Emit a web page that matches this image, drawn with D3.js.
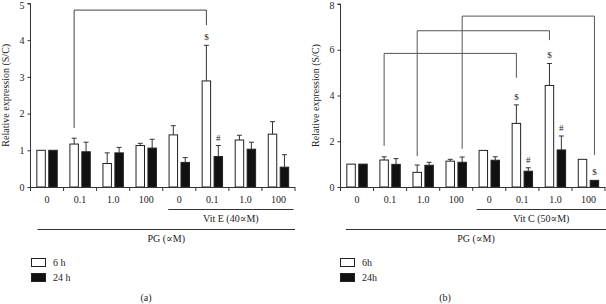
<!DOCTYPE html>
<html>
<head>
<meta charset="utf-8">
<script src="https://cdn.jsdelivr.net/npm/d3@7"></script>
<style>
  body { margin: 0; background: #fff; }
  svg text { font-family: "Liberation Serif", "DejaVu Serif", serif; fill: #222; }
</style>
</head>
<body>
<div id="chart"></div>
<script>
var w = 606, h = 304;

// Categories (PG concentration) and series
var groups = ["0", "0.1", "1.0", "100", "0", "0.1", "1.0", "100"];
var series = ["6h", "24h"];

// Panel (a): Vit E
var a6h = [1.0, 1.17, 0.64, 1.13, 1.42, 2.89, 1.28, 1.44];
var a6hErr = [0, 0.16, 0.29, 0.06, 0.25, 0.97, 0.13, 0.34];
var a24h = [1.0, 0.96, 0.93, 1.06, 0.67, 0.83, 1.03, 0.54];
var a24hErr = [0, 0.26, 0.15, 0.24, 0.13, 0.30, 0.19, 0.34];
var aTicks = [0, 1, 2, 3, 4, 5];
// [group, series, symbol]
var aMarks = [[5, 0, "$"], [5, 1, "#"]];
// [leftGroup, leftSeries, rightGroup, rightSeries, top, leftEnd, rightEnd]
var aBrackets = [[1, 0, 5, 0, 4.82, 1.61, 4.41]];

// Panel (b): Vit C
var b6h = [1.0, 1.18, 0.64, 1.13, 1.6, 2.78, 4.44, 1.21];
var b6hErr = [0, 0.14, 0.32, 0.08, 0, 0.81, 0.96, 0];
var b24h = [1.0, 0.99, 0.95, 1.08, 1.17, 0.69, 1.62, 0.29];
var b24hErr = [0, 0.25, 0.13, 0.23, 0.15, 0.15, 0.61, 0];
var bTicks = [0, 2, 4, 6, 8];
var bMarks = [[5, 0, "$"], [6, 0, "$"], [6, 1, "#"], [5, 1, "#"], [7, 1, "$"]];
var bBrackets = [
  [1, 0, 5, 0, 5.84, 1.8, 4.77],
  [2, 0, 6, 0, 6.83, 1.35, 6.42],
  [3, 1, 7, 1, 7.47, 1.67, 1.40]
];

var svg = d3.select("#chart")
  .append("svg")
  .attr("width", w)
  .attr("height", h);

function drawPanel(p) {
  var g = svg.append("g");

  var x0 = d3.scaleBand()
    .domain(d3.range(groups.length))
    .range([p.left, p.right]);

  var x1 = d3.scaleBand()
    .domain(series)
    .range([-10.2, 10.2])
    .paddingInner(0.29);

  var y = d3.scaleLinear()
    .domain([0, p.ymax])
    .range([187, p.ytop]);

  function cx(gi, si) {
    return x0(gi) + x0.bandwidth() / 2 + x1(series[si]) + x1.bandwidth() / 2;
  }

  var rows = [];
  groups.forEach(function(d, i) {
    rows.push({ g: i, s: 0, v: p.v6[i], e: p.e6[i] });
    rows.push({ g: i, s: 1, v: p.v24[i], e: p.e24[i] });
  });

  // Error bars (upper only)
  var eb = g.append("g")
    .selectAll("g")
    .data(rows.filter(function(d) { return d.e > 0; }))
    .enter()
    .append("g")
    .attr("stroke", "#333")
    .attr("stroke-width", 1);
  eb.append("line")
    .attr("x1", function(d) { return cx(d.g, d.s); })
    .attr("x2", function(d) { return cx(d.g, d.s); })
    .attr("y1", function(d) { return y(d.v); })
    .attr("y2", function(d) { return y(d.v + d.e); });
  eb.append("line")
    .attr("x1", function(d) { return cx(d.g, d.s) - 2.5; })
    .attr("x2", function(d) { return cx(d.g, d.s) + 2.5; })
    .attr("y1", function(d) { return y(d.v + d.e); })
    .attr("y2", function(d) { return y(d.v + d.e); });

  // Bars
  g.append("g")
    .selectAll("rect")
    .data(rows)
    .enter()
    .append("rect")
    .attr("x", function(d) { return cx(d.g, d.s) - x1.bandwidth() / 2; })
    .attr("y", function(d) { return y(d.v); })
    .attr("width", x1.bandwidth())
    .attr("height", function(d) { return y(0) - y(d.v); })
    .attr("fill", function(d) { return d.s === 0 ? "#fff" : "#111"; })
    .attr("stroke", "#222")
    .attr("stroke-width", 1);

  // Significance symbols
  g.append("g")
    .selectAll("text")
    .data(p.marks)
    .enter()
    .append("text")
    .attr("x", function(d) { return cx(d[0], d[1]); })
    .attr("y", function(d) {
      var v = d[1] === 0 ? p.v6[d[0]] + p.e6[d[0]] : p.v24[d[0]] + p.e24[d[0]];
      return y(v) - 5;
    })
    .attr("text-anchor", "middle")
    .attr("font-size", "9px")
    .text(function(d) { return d[2]; });

  // Comparison brackets
  g.append("g")
    .selectAll("path")
    .data(p.brackets)
    .enter()
    .append("path")
    .attr("fill", "none")
    .attr("stroke", p.bracketColor)
    .attr("stroke-width", 1)
    .attr("d", function(d) {
      var xl = cx(d[0], d[1]), xr = cx(d[2], d[3]);
      return "M" + xl + "," + y(d[5]) + "V" + y(d[4]) + "H" + xr + "V" + y(d[6]);
    });

  // Y axis
  var yAxis = d3.axisLeft(y)
    .tickValues(p.ticks)
    .tickSize(3)
    .tickPadding(3)
    .tickFormat(d3.format("d"));
  var ya = g.append("g")
    .attr("transform", "translate(" + p.left + ",0)")
    .call(yAxis);
  ya.select(".domain").attr("stroke", "#333").attr("d", "M-3," + p.ytop + "H0V187");
  ya.selectAll(".tick line").attr("stroke", "#333");
  ya.selectAll("text").attr("font-size", "10px").attr("font-family", "Liberation Serif").attr("fill", "#222");
  // keep the top label inside the picture
  ya.selectAll("text").filter(function(d) { return d === p.ymax; }).attr("dy", "0.45em");

  g.append("text")
    .attr("transform", "translate(" + (p.left - 22) + "," + ((187 + p.ytop) / 2) + ") rotate(-90)")
    .attr("text-anchor", "middle")
    .attr("font-size", "10px")
    .text("Relative expression (S/C)");

  // X axis
  var xAxis = d3.axisBottom(x0)
    .tickSize(0)
    .tickPadding(9)
    .tickFormat(function(d) { return groups[d]; });
  var xa = g.append("g")
    .attr("transform", "translate(0,187)")
    .call(xAxis);
  xa.select(".domain").attr("stroke", "#333").attr("d", "M" + p.left + ",0.5H" + p.right);
  xa.selectAll("text").attr("font-size", "10px").attr("font-family", "Liberation Serif").attr("fill", "#222");

  // Separating ticks between groups
  g.append("g")
    .selectAll("line")
    .data(d3.range(groups.length + 1))
    .enter()
    .append("line")
    .attr("x1", function(d) { return p.left + d * x0.step(); })
    .attr("x2", function(d) { return p.left + d * x0.step(); })
    .attr("y1", 187)
    .attr("y2", 191)
    .attr("stroke", "#333");

  // Vitamin group line and label
  g.append("line")
    .attr("x1", x0(4) + p.vitInset)
    .attr("x2", p.vitEnd)
    .attr("y1", 209.5)
    .attr("y2", 209.5)
    .attr("stroke", "#333");
  g.append("text")
    .attr("x", (x0(4) + p.vitInset + p.vitEnd) / 2)
    .attr("y", 222)
    .attr("text-anchor", "middle")
    .attr("font-size", "10px")
    .text(p.vitLabel);

  // PG line and label
  g.append("line")
    .attr("x1", p.pgStart)
    .attr("x2", p.pgEnd)
    .attr("y1", 229.5)
    .attr("y2", 229.5)
    .attr("stroke", "#333");
  g.append("text")
    .attr("x", (p.pgStart + p.pgEnd) / 2)
    .attr("y", 242)
    .attr("text-anchor", "middle")
    .attr("font-size", "10px")
    .text("PG (\u221DM)");

  // Legend
  var lg = g.append("g")
    .selectAll("g")
    .data(series)
    .enter()
    .append("g")
    .attr("transform", function(d, i) { return "translate(" + p.legendX + "," + (258 + i * 15) + ")"; });
  lg.append("rect")
    .attr("x", 0.5)
    .attr("y", 0.5)
    .attr("width", 14)
    .attr("height", 8)
    .attr("fill", function(d, i) { return i === 0 ? "#fff" : "#111"; })
    .attr("stroke", "#222");
  lg.append("text")
    .attr("x", 22)
    .attr("y", 8)
    .attr("font-size", "10px")
    .text(function(d, i) { return p.legendText[i]; });

  // Panel label
  g.append("text")
    .attr("x", p.labelX)
    .attr("y", 301)
    .attr("text-anchor", "middle")
    .attr("font-size", "10px")
    .text(p.label);
}

drawPanel({
  left: 30.5, right: 295, ymax: 5, ytop: 3.5, ticks: aTicks,
  v6: a6h, e6: a6hErr, v24: a24h, e24: a24hErr,
  marks: aMarks, brackets: aBrackets, bracketColor: "#444",
  vitInset: 5.5, vitEnd: 293.5, vitLabel: "Vit E (40\u221DM)",
  pgStart: 37.5, pgEnd: 295, legendX: 31, legendText: ["6 h", "24 h"],
  labelX: 146, label: "(a)"
});

drawPanel({
  left: 340.5, right: 605, ymax: 8, ytop: 4, ticks: bTicks,
  v6: b6h, e6: b6hErr, v24: b24h, e24: b24hErr,
  marks: bMarks, brackets: bBrackets, bracketColor: "#555",
  vitInset: 4, vitEnd: 606, vitLabel: "Vit C (50\u221DM)",
  pgStart: 346, pgEnd: 606, legendX: 340, legendText: ["6h", "24h"],
  labelX: 445, label: "(b)"
});
</script>
</body>
</html>
